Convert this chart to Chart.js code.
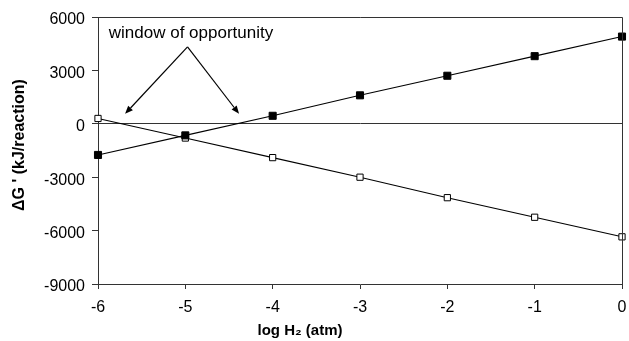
<!DOCTYPE html>
<html><head><meta charset="utf-8">
<script src="https://cdn.jsdelivr.net/npm/chart.js@4/dist/chart.umd.min.js"></script>
<style>html,body{margin:0;padding:0;background:#fff}#wrap{width:629px;height:341px}</style>
</head><body><div id="wrap"><canvas id="c" width="629" height="341"></canvas></div>
<script>
const xValues = [-6, -5, -4, -3, -2, -1, 0];
const filledSeries = [-1750, -650, 450, 1600, 2700, 3800, 4900];
const openSeries = [300, -800, -1900, -3000, -4150, -5250, -6350];
const yTicks = [-9000, -6000, -3000, 0, 3000, 6000];
const xTicks = [-6, -5, -4, -3, -2, -1, 0];

const xTitle = 'log H\u2082 (atm)';
const yTitle = "\u0394G ' (kJ/reaction)";
const annotationText = 'window of opportunity';
const annoText = {x: -4.935, y: 4820};
const annoApex = {x: -4.975, y: 4320};
const annoTips = [{x: -5.69, y: 560}, {x: -4.385, y: 560}];

const axisColor = '#333';
const fam = '"Liberation Sans", Arial, sans-serif';

const overlay = {
  id: 'overlay',
  afterDatasetsDraw(chart) {
    const {ctx, chartArea: a, scales: {x, y}} = chart;
    ctx.save();
    ctx.strokeStyle = axisColor; ctx.lineWidth = 1;
    ctx.beginPath();
    ctx.moveTo(a.left, a.top + 0.5); ctx.lineTo(a.right + 0.5, a.top + 0.5);
    ctx.lineTo(a.right + 0.5, a.bottom);
    ctx.stroke();
    // annotation
    ctx.fillStyle = '#000'; ctx.strokeStyle = '#000';
    ctx.font = '17px ' + fam;
    ctx.textAlign = 'center'; ctx.textBaseline = 'alphabetic';
    ctx.fillText(annotationText, x.getPixelForValue(annoText.x), y.getPixelForValue(annoText.y));
    const ax = x.getPixelForValue(annoApex.x), ay = y.getPixelForValue(annoApex.y);
    annoTips.forEach(t => {
      const tx = x.getPixelForValue(t.x), ty = y.getPixelForValue(t.y);
      const ang = Math.atan2(ty - ay, tx - ax);
      const hl = 8, hw = 3.2;
      const bx = tx - hl * Math.cos(ang), by = ty - hl * Math.sin(ang);
      ctx.lineWidth = 1.2;
      ctx.beginPath(); ctx.moveTo(ax, ay); ctx.lineTo(bx, by); ctx.stroke();
      ctx.beginPath();
      ctx.moveTo(tx, ty);
      ctx.lineTo(bx + hw * Math.sin(ang), by - hw * Math.cos(ang));
      ctx.lineTo(bx - hw * Math.sin(ang), by + hw * Math.cos(ang));
      ctx.closePath(); ctx.fill();
    });
    // axis titles
    ctx.textBaseline = 'middle';
    ctx.font = 'bold 15px ' + fam;
    ctx.fillText(xTitle, 300, 331);
    ctx.translate(20, 145);
    ctx.rotate(-Math.PI / 2);
    ctx.font = 'bold 16px ' + fam;
    ctx.fillText(yTitle, 0, 0);
    ctx.restore();
  }
};

const font = {family: fam, size: 16};

new Chart(document.getElementById('c'), {
  type: 'scatter',
  data: {
    datasets: [
      {
        data: xValues.map((v, i) => ({x: v, y: filledSeries[i]})),
        showLine: true, borderColor: '#000', borderWidth: 1.1, clip: false,
        pointStyle: 'rect', pointRadius: 5, pointBackgroundColor: '#000',
        pointBorderColor: '#000', pointBorderWidth: 1
      },
      {
        data: xValues.map((v, i) => ({x: v, y: openSeries[i]})),
        showLine: true, borderColor: '#000', borderWidth: 1.1, clip: false,
        pointStyle: 'rect', pointRadius: 4.4, pointBackgroundColor: '#fff',
        pointBorderColor: '#000', pointBorderWidth: 1
      }
    ]
  },
  options: {
    responsive: false, animation: false, devicePixelRatio: 1,
    layout: {padding: {top: 17, right: 7, left: 0, bottom: 0}, autoPadding: false},
    plugins: {legend: {display: false}, tooltip: {enabled: false}},
    scales: {
      x: {
        type: 'linear', min: -6, max: 0,
        afterBuildTicks(s) { s.ticks = xTicks.map(v => ({value: v})); },
        afterFit(s) { s.height = 57; s.paddingLeft = 0; s.paddingRight = 0; },
        ticks: {color: '#000', font, padding: 9, maxRotation: 0, callback: v => String(v)},
        grid: {display: true, drawOnChartArea: false, tickLength: 5, tickColor: axisColor, color: axisColor},
        border: {color: axisColor, width: 1},
        title: {display: false}
      },
      y: {
        type: 'linear', min: -9000, max: 6000,
        afterBuildTicks(s) { s.ticks = yTicks.map(v => ({value: v})); },
        afterFit(s) { s.width = 98; s.paddingTop = 0; s.paddingBottom = 0; },
        ticks: {color: '#000', font, padding: 7, labelOffset: 3, callback: v => String(v)},
        grid: {
          drawOnChartArea: true, tickLength: 6, tickColor: axisColor,
          color: c => (c.tick && c.tick.value === 0) ? axisColor : 'rgba(0,0,0,0)',
          lineWidth: 1
        },
        border: {color: axisColor, width: 1},
        title: {display: false}
      }
    }
  },
  plugins: [overlay]
});
</script></body></html>
